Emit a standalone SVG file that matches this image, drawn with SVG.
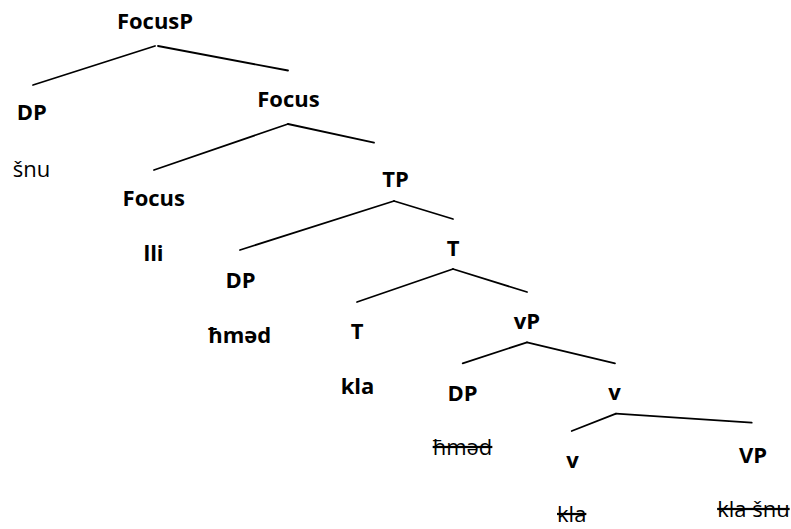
<svg xmlns="http://www.w3.org/2000/svg" width="791" height="529" viewBox="0 0 791 529">
<style>
text{font-family:"Open Sans","Noto Sans","DejaVu Sans",sans-serif;font-size:22px;fill:#000;text-anchor:middle}
.b{font-weight:700}
.s{text-decoration:line-through}
.e{stroke:#000;stroke-width:1.8;fill:none;stroke-linecap:round}
</style>
<rect width="791" height="529" fill="#fff"/>
<g id="connectors" class="e">
<line x1="155" y1="46" x2="33" y2="85"/>
<line x1="158" y1="46" x2="288" y2="70.5"/>
<line x1="288" y1="124" x2="154" y2="170"/>
<line x1="288" y1="124" x2="374" y2="142.7"/>
<line x1="394" y1="201" x2="240" y2="250"/>
<line x1="394" y1="201" x2="453" y2="219"/>
<line x1="453" y1="269" x2="357" y2="302"/>
<line x1="453" y1="269" x2="527" y2="292"/>
<line x1="527" y1="342.3" x2="462.7" y2="363.3"/>
<line x1="527" y1="342.3" x2="615" y2="363.3"/>
<line x1="616" y1="413.7" x2="571.7" y2="431"/>
<line x1="616" y1="413.7" x2="751.7" y2="422.7"/>
</g>
<g id="FocusP"><text class="b" x="155" y="29">FocusP</text></g>
<g id="DP1"><text class="b" x="31.7" y="120">DP</text><text x="31.5" y="177">šnu</text></g>
<g id="FocusBar"><text class="b" x="288.5" y="107">Focus</text></g>
<g id="Focus"><text class="b" x="153.8" y="206">Focus</text><text class="b" x="153.5" y="261">lli</text></g>
<g id="TP"><text class="b" x="395.5" y="186.5">TP</text></g>
<g id="DP2"><text class="b" x="240.5" y="287.5">DP</text><text class="b" x="239.7" y="343">ħməd</text></g>
<g id="TBar"><text class="b" x="453" y="256">T</text></g>
<g id="T"><text class="b" x="357" y="339">T</text><text class="b" x="357.5" y="394">kla</text></g>
<g id="vP"><text class="b" x="527" y="329">vP</text></g>
<g id="DP3"><text class="b" x="462.5" y="401">DP</text><text class="s" x="462.5" y="455">ħməd</text></g>
<g id="vBar"><text class="b" x="614.5" y="400">v</text></g>
<g id="v"><text class="b" x="572.5" y="468">v</text><text class="s" x="571.7" y="522">kla</text></g>
<g id="VP"><text class="b" x="753" y="462.5">VP</text><text class="s" x="753.4" y="517">kla šnu</text></g>
</svg>
